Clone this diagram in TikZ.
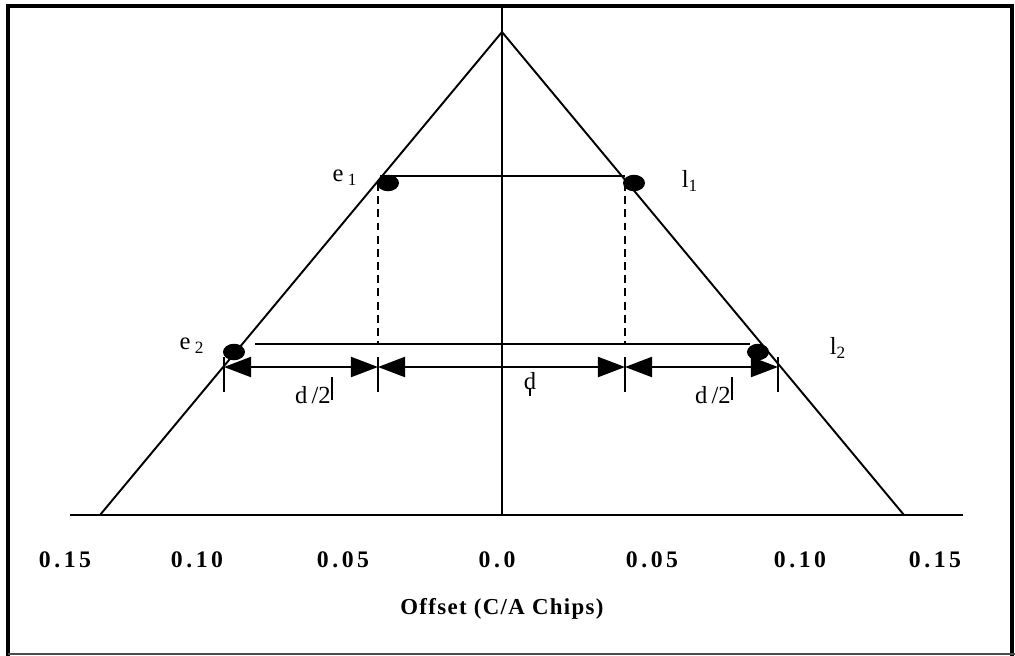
\documentclass[tikz,border=0pt]{standalone}
\usepackage{fontspec}
\setmainfont{Liberation Serif}
\usetikzlibrary{arrows.meta,shapes.geometric}
\begin{document}
\begin{tikzpicture}[x=0.02cm,y=-0.02cm,
  ln/.style={line width=1.1pt},
  dashln/.style={line width=1.1pt,dash pattern=on 4.5pt off 3pt},
  dot/.style={ellipse,fill=black,minimum width=0.44cm,minimum height=0.33cm,inner sep=0pt},
  lbl/.style={font=\fontsize{14}{16}\selectfont,inner sep=0pt},
  ticklbl/.style={font=\fontsize{13.5}{15}\selectfont\bfseries\addfontfeature{LetterSpace=15},inner sep=0pt},
  dim/.style={line width=1.1pt,{Triangle[length=15.5pt,width=11.5pt]}-{Triangle[length=15.5pt,width=11.5pt]}}]
\useasboundingbox (0,0) rectangle (1015,656);
% frame
\draw[line width=2.4pt] (8,656) -- (8,6) -- (1012,6) -- (1012,656);
\draw[line width=0.8pt,black!70] (8,654) -- (1015,654);
% axes
\coordinate (axL) at (70,515);
\coordinate (axR) at (963,515);
\coordinate (axT) at (502,8);
\coordinate (axB) at (502,515);
\draw[ln] (axL) -- (axR);
\draw[ln] (axT) -- (axB);
% triangle
\coordinate (apex) at (502,32);
\coordinate (bl) at (100,515);
\coordinate (br) at (904,515);
\draw[ln] (bl) -- (apex) -- (br);
% upper pair
\coordinate (e1c) at (380,176);
\coordinate (l1c) at (625,176);
\draw[ln] (e1c) -- (l1c);
\node[dot] (e1dot) at (388,183) {};
\node[dot] (l1dot) at (634,183) {};
\coordinate (dl1) at (378,183);
\coordinate (dl2) at (378,344);
\coordinate (dr1) at (625,183);
\coordinate (dr2) at (625,344);
\draw[dashln] (dl1) -- (dl2);
\draw[dashln] (dr1) -- (dr2);
% lower pair
\coordinate (e2c) at (255,344);
\coordinate (l2c) at (750,344);
\draw[ln] (e2c) -- (l2c);
\node[dot] (e2dot) at (234,352) {};
\node[dot] (l2dot) at (758,352) {};
% dimension arrows
\coordinate (a1) at (224,367);
\coordinate (a2) at (378,367);
\coordinate (a3) at (625,367);
\coordinate (a4) at (778,367);
\draw[dim] (a1) -- (a2);
\draw[dim] (a2) -- (a3);
\draw[dim] (a3) -- (a4);
\foreach \p/\x in {t1/224,t2/378,t3/625,t4/778}{
  \coordinate (\p a) at (\x,357);
  \coordinate (\p b) at (\x,392);
  \draw[ln] (\p a) -- (\p b);
}
% labels
\node[lbl] (e1) at (345,178) {e\,\textsubscript{1}};
\node[lbl] (l1) at (690,181) {l\textsubscript{1}};
\node[lbl] (e2) at (192,346) {e\,\textsubscript{2}};
\node[lbl] (l2) at (838,348) {l\textsubscript{2}};
\node[lbl] (dh1) at (313,395) {d\,/2};
\node[lbl] (dd) at (530,381) {d};
\node[lbl] (dh2) at (713,395) {d\,/2};
\coordinate (b1a) at (332,377); \coordinate (b1b) at (332,400);
\coordinate (b2a) at (732,377); \coordinate (b2b) at (732,400);
\coordinate (b3a) at (530,388); \coordinate (b3b) at (530,396);
\draw[ln] (b1a) -- (b1b);
\draw[ln] (b2a) -- (b2b);
\draw[ln] (b3a) -- (b3b);
% tick labels
\node[ticklbl] (x1) at (65,560) {0.15};
\node[ticklbl] (x2) at (197,560) {0.10};
\node[ticklbl] (x3) at (343,560) {0.05};
\node[ticklbl] (x4) at (497,560) {0.0};
\node[ticklbl] (x5) at (652,560) {0.05};
\node[ticklbl] (x6) at (800,560) {0.10};
\node[ticklbl] (x7) at (935,560) {0.15};
\node[font=\fontsize{13}{15}\selectfont\bfseries\addfontfeature{LetterSpace=6},inner sep=0pt] (title) at (502,609) {Offset (C/A Chips)};
\end{tikzpicture}
\end{document}
